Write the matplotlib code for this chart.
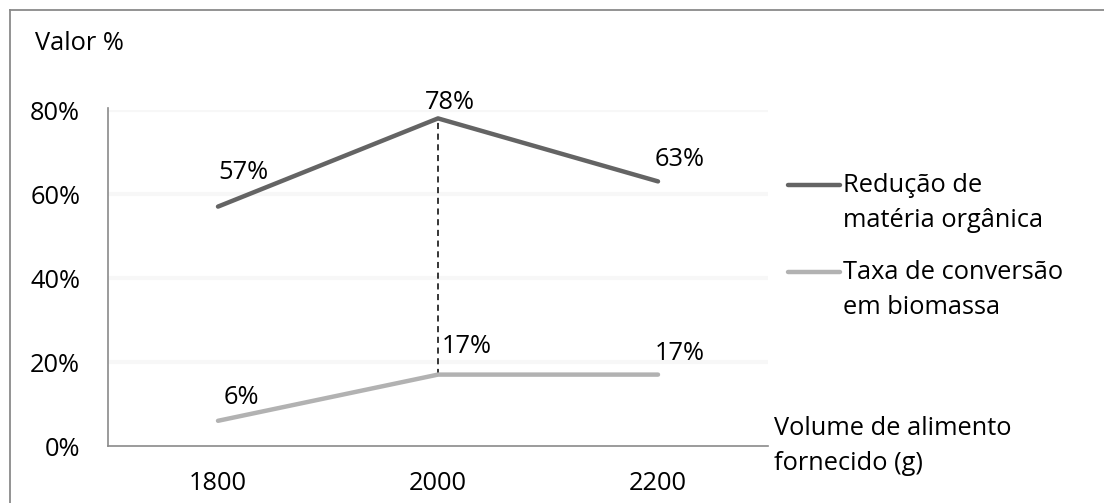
import matplotlib
matplotlib.use("Agg")
import matplotlib.pyplot as plt
from matplotlib.lines import Line2D

# ---- data ----
categories = ["1800", "2000", "2200"]
reducao = [0.57, 0.78, 0.63]
taxa = [0.06, 0.17, 0.17]
series_names = ["Redução de\nmatéria orgânica", "Taxa de conversão\nem biomassa"]
y_ticks = [0.0, 0.2, 0.4, 0.6, 0.8]
y_tick_labels = ["0%", "20%", "40%", "60%", "80%"]
y_title = "Valor %"
x_title = "Volume de alimento\nfornecido (g)"

W, H = 1104, 503
plt.rcParams['font.family'] = ['Open Sans', 'DejaVu Sans']
FS = 18.3
dark = "#646464"
light = "#b2b2b2"
axis_col = "#8a8a8a"

fig = plt.figure(figsize=(W / 100, H / 100), dpi=100)

def fx(px):
    return px / W

def fy(py):
    return 1 - py / H

ax = fig.add_axes([fx(108), fy(446), fx(768) - fx(108), fy(110) - fy(446)])
x = list(range(len(categories)))
ax.set_xlim(-0.5, len(categories) - 0.5)
ax.set_ylim(0, 0.8)

# faint gridlines
for t in y_ticks[1:]:
    ax.axhline(t, color="#f7f7f7", lw=3, zorder=0)

ax.plot(x, reducao, color=dark, lw=3.2, solid_capstyle="round", zorder=3)
ax.plot(x, taxa, color=light, lw=3.2, solid_capstyle="round", zorder=3)

# dashed drop line at peak
imax = max(range(len(reducao)), key=lambda i: reducao[i])
ax.plot([x[imax], x[imax]], [taxa[imax], reducao[imax]], color="black",
        lw=1.1, ls=(0, (4, 3)), zorder=2)

# data labels
red_offsets = [(25, 34), (12, 16), (22, 22)]
tax_offsets = [(23, 23), (29, 28), (22, 21)]
for xi, v, (dx, dy) in zip(x, reducao, red_offsets):
    ax.annotate(f"{round(v*100)}%", (xi, v), xytext=(dx, dy), textcoords="offset pixels",
                ha="center", va="center", fontsize=FS, color="black")
for xi, v, (dx, dy) in zip(x, taxa, tax_offsets):
    ax.annotate(f"{round(v*100)}%", (xi, v), xytext=(dx, dy), textcoords="offset pixels",
                ha="center", va="center", fontsize=FS, color="black")

# axes styling
for s in ["top", "right"]:
    ax.spines[s].set_visible(False)
for s in ["left", "bottom"]:
    ax.spines[s].set_color(axis_col)
    ax.spines[s].set_linewidth(1.2)
ax.spines["left"].set_bounds(0, 0.805)
ax.set_yticks(y_ticks)
ax.set_yticklabels(y_tick_labels)
ax.set_xticks(x)
ax.set_xticklabels(categories)
ax.tick_params(axis="both", length=0, labelsize=FS, colors="black")
ax.tick_params(axis="y", pad=20)
ax.tick_params(axis="x", pad=18)
ax.patch.set_alpha(0)

# titles
fig.text(fx(35), fy(44), y_title, fontsize=FS, ha="left", va="center")
fig.text(fx(774), fy(446), x_title, fontsize=FS, ha="left", va="center",
         linespacing=1.5)

# legend (manual)
leg_y = [185, 272]
for name, col, ly in zip(series_names, [dark, light], leg_y):
    fig.add_artist(Line2D([fx(788), fx(840)], [fy(ly), fy(ly)], color=col, lw=3.2,
                          solid_capstyle="round", transform=fig.transFigure))
    fig.text(fx(843), fy(ly + 18), name, fontsize=FS, ha="left", va="center",
             linespacing=1.5)

# outer border (left & top)
fig.add_artist(Line2D([fx(10), fx(10)], [fy(10), 0], color=axis_col, lw=1.3,
                      transform=fig.transFigure))
fig.add_artist(Line2D([fx(10), 1], [fy(10), fy(10)], color=axis_col, lw=1.3,
                      transform=fig.transFigure))

fig.savefig("out.png", dpi=100)
